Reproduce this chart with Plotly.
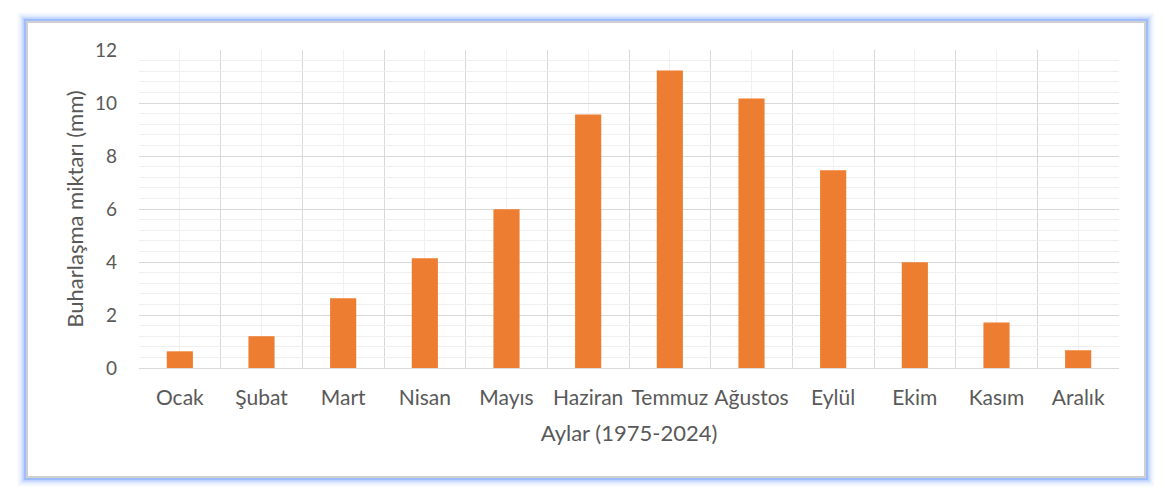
import plotly.graph_objects as go

months = ["Ocak", "Şubat", "Mart", "Nisan", "Mayıs", "Haziran", "Temmuz",
          "Ağustos", "Eylül", "Ekim", "Kasım", "Aralık"]
evaporation = [0.63, 1.20, 2.63, 4.14, 5.99, 9.57, 11.23, 10.17, 7.46, 3.99, 1.72, 0.67]
y_ticks = [0, 2, 4, 6, 8, 10, 12]

xpos = list(range(len(months)))

fig = go.Figure()
fig.add_trace(go.Bar(x=xpos, y=evaporation, width=0.32,
                     marker=dict(color="#ED7D31", line=dict(width=0)),
                     hoverinfo="x+y"))

L, R, T, B = 139, 57, 50, 135
W, H = 1176, 503
pw, ph = W - L - R, H - T - B

def px(x):
    return (x - L) / pw

def py(y):
    return (H - B - y) / ph

shapes = []
# glow
for w, a in [(16, 0.10), (11, 0.18), (7, 0.32), (4, 0.55)]:
    shapes.append(dict(type="rect", xref="paper", yref="paper",
                       x0=px(26), x1=px(1146), y0=py(478), y1=py(21),
                       line=dict(color=f"rgba(130,170,255,{a})", width=w),
                       fillcolor="rgba(0,0,0,0)", layer="below"))
shapes.append(dict(type="rect", xref="paper", yref="paper",
                   x0=px(27), x1=px(1145), y0=py(477), y1=py(22),
                   line=dict(color="#d0d0d0", width=2),
                   fillcolor="white", layer="below"))

fig.update_layout(
    width=W, height=H,
    margin=dict(l=L, r=R, t=T, b=B, pad=0),
    paper_bgcolor="white",
    plot_bgcolor="rgba(0,0,0,0)",
    showlegend=False,
    shapes=shapes,
    font=dict(family="Lato, Open Sans, sans-serif", color="#595959", size=18),
    xaxis=dict(
        range=[-0.5, 11.5],
        tickmode="array", tickvals=xpos, ticktext=months,
        showgrid=True, gridcolor="#f0f0f0", gridwidth=1,
        minor=dict(tickvals=[i - 0.5 for i in range(13)], showgrid=True,
                   gridcolor="#d9d9d9", gridwidth=1),
        zeroline=False, showline=False, ticks="",
        ticklabelstandoff=15,
        tickfont=dict(size=21, color="#595959"),
        title=dict(text="Aylar (1975-2024)", font=dict(size=22, color="#595959"), standoff=17),
        fixedrange=True,
    ),
    yaxis=dict(
        range=[0, 12],
        tickmode="array", tickvals=y_ticks,
        showgrid=True, gridcolor="#d9d9d9", gridwidth=1,
        minor=dict(dtick=0.4, tick0=0, showgrid=True, gridcolor="#efefef", gridwidth=1),
        zeroline=True, zerolinecolor="#d9d9d9", zerolinewidth=1,
        showline=False, ticks="",
        ticklabelstandoff=21,
        tickfont=dict(size=19, color="#595959"),
        title=dict(text="Buharlaşma miktarı (mm)", font=dict(size=22, color="#595959"), standoff=5),
        fixedrange=True,
    ),
)

fig.write_html("out.html", config={"displayModeBar": False})
